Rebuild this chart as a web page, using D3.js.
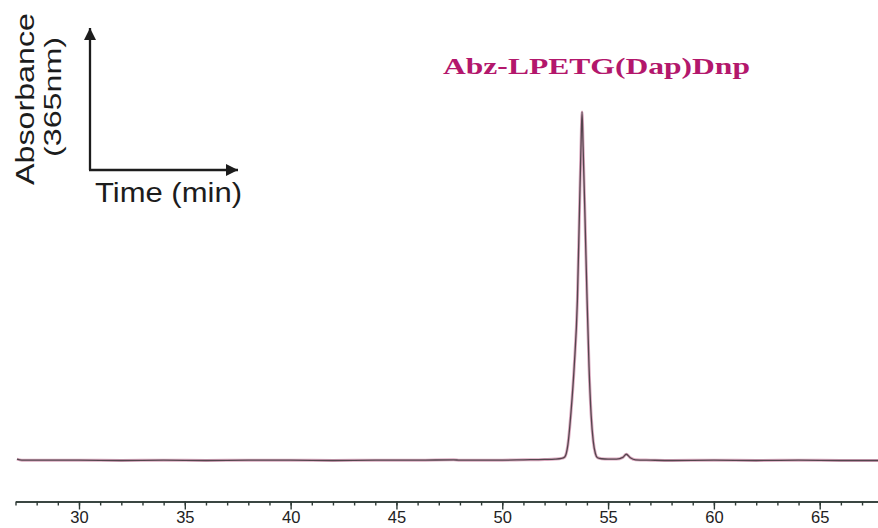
<!DOCTYPE html>
<html>
<head>
<meta charset="utf-8">
<script src="https://cdn.jsdelivr.net/npm/d3@7"></script>
<style>
  body { margin: 0; background: #fff; }
  svg { display: block; }
</style>
</head>
<body>
<svg id="chart"></svg>
<script>
// retention time (min) and absorbance (arbitrary units, peak = 100)
const times = [27.07, 27.3, 28, 30, 32, 34, 36, 38, 40, 42, 44, 46, 47.7, 48, 50, 51, 52, 52.5, 52.8,
  52.95, 53.1, 53.25, 53.4, 53.55, 53.65, 53.72, 53.77, 53.82, 53.9, 54.0, 54.1, 54.2, 54.3, 54.4,
  54.5, 54.7, 55.0, 55.4, 55.7, 55.86, 56.05, 56.3, 57, 58, 60, 62, 64, 66, 68];
const absorbance = [0.4, 0.1, 0.1, 0.1, 0.0, 0.1, 0.0, 0.1, 0.1, 0.0, 0.1, 0.1, 0.2, 0.1, 0.1, 0.2, 0.3, 0.4, 0.6,
  1.0, 4.5, 14, 27, 46, 72, 90, 100, 90, 72, 48, 27, 13, 5.5, 2.0,
  0.8, 0.5, 0.4, 0.4, 0.9, 1.8, 0.8, 0.2, 0.1, 0.0, 0.1, 0.0, 0.1, 0.0, 0.0];

const majorTicks = [30, 35, 40, 45, 50, 55, 60, 65];
const minorTicks = d3.range(27, 69, 1);
const peakLabel = "Abz-LPETG(Dap)Dnp";

const width = 878, height = 528;

const svg = d3.select("#chart")
    .attr("width", width)
    .attr("height", height);

svg.selectAll("*").remove();

// scales
const x = d3.scaleLinear()
    .domain([27, 68])
    .range([15.5, 883.2]);

const y = d3.scaleLinear()
    .domain([0, 100])
    .range([460.5, 112]);

// chromatogram trace
const line = d3.line()
    .x((d, i) => x(d))
    .y((d, i) => y(absorbance[i]))
    .curve(d3.curveMonotoneX);

svg.append("path")
    .attr("d", line(times))
    .attr("fill", "none")
    .attr("stroke", "#dbaac0")
    .attr("stroke-width", 3);

svg.append("path")
    .attr("d", line(times))
    .attr("fill", "none")
    .attr("stroke", "#54454d")
    .attr("stroke-width", 1.3);

// time axis at bottom
const axisY = 501.5;

const minorAxis = svg.append("g")
    .attr("transform", `translate(0, ${axisY})`)
    .call(d3.axisBottom(x).tickValues(minorTicks).tickSize(4).tickSizeOuter(0).tickFormat(""));

const majorAxis = svg.append("g")
    .attr("transform", `translate(0, ${axisY})`)
    .call(d3.axisBottom(x).tickValues(majorTicks).tickSize(8).tickSizeOuter(0).tickPadding(2));

[minorAxis, majorAxis].forEach(g => {
    g.select(".domain").attr("stroke", "#2e3a36").attr("stroke-width", 1.6);
    g.selectAll(".tick line").attr("stroke", "#2e3a36").attr("stroke-width", 1.4);
});

majorAxis.selectAll(".tick text")
    .attr("fill", "#222")
    .attr("font-family", "Liberation Sans, Arial, sans-serif")
    .attr("font-size", 16.5);

// peak label
svg.append("text")
    .attr("x", 443)
    .attr("y", 74)
    .attr("font-family", "Liberation Serif, Times New Roman, serif")
    .attr("font-weight", "bold")
    .attr("font-size", 24)
    .attr("fill", "#b3176c")
    .attr("textLength", 307)
    .attr("lengthAdjust", "spacingAndGlyphs")
    .text(peakLabel);

// inset axes key with arrows
const defs = svg.append("defs");
defs.append("marker")
    .attr("id", "arrow")
    .attr("viewBox", "0 0 12 12")
    .attr("refX", 12)
    .attr("refY", 6)
    .attr("markerWidth", 12)
    .attr("markerHeight", 12)
    .attr("markerUnits", "userSpaceOnUse")
    .attr("orient", "auto")
    .append("path")
    .attr("d", "M0,0 L12,6 L0,12 Z")
    .attr("fill", "#1c1c1c");

const key = svg.append("g");

key.append("path")
    .attr("d", "M90,170 L90,28")
    .attr("stroke", "#1c1c1c")
    .attr("stroke-width", 2.3)
    .attr("fill", "none")
    .attr("marker-end", "url(#arrow)");

key.append("path")
    .attr("d", "M89,170 L238,170")
    .attr("stroke", "#1c1c1c")
    .attr("stroke-width", 2.3)
    .attr("fill", "none")
    .attr("marker-end", "url(#arrow)");

key.append("text")
    .attr("transform", "translate(34, 99) rotate(-90)")
    .attr("text-anchor", "middle")
    .attr("font-family", "Liberation Sans, Arial, sans-serif")
    .attr("font-size", 25)
    .attr("fill", "#1c1c1c")
    .attr("textLength", 172)
    .attr("lengthAdjust", "spacingAndGlyphs")
    .text("Absorbance");

key.append("text")
    .attr("transform", "translate(61, 97) rotate(-90)")
    .attr("text-anchor", "middle")
    .attr("font-family", "Liberation Sans, Arial, sans-serif")
    .attr("font-size", 24)
    .attr("fill", "#1c1c1c")
    .attr("textLength", 120)
    .attr("lengthAdjust", "spacingAndGlyphs")
    .text("(365nm)");

key.append("text")
    .attr("x", 95)
    .attr("y", 202)
    .attr("font-family", "Liberation Sans, Arial, sans-serif")
    .attr("font-size", 28)
    .attr("fill", "#1c1c1c")
    .attr("textLength", 147)
    .attr("lengthAdjust", "spacingAndGlyphs")
    .text("Time (min)");
</script>
</body>
</html>
